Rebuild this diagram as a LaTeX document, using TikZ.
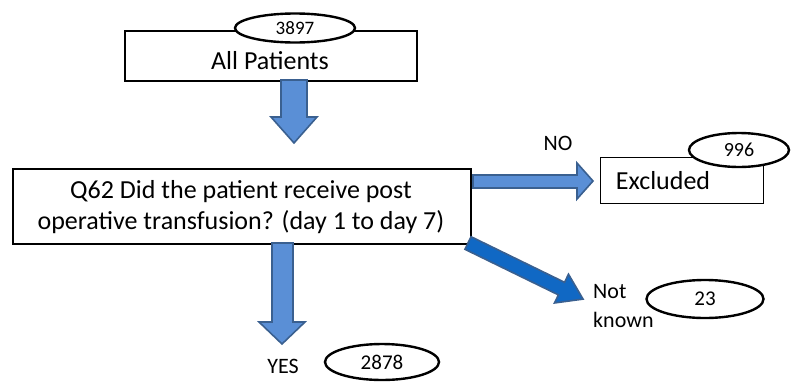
\documentclass[tikz,border=0pt]{standalone}
\usepackage{fontspec}
\setmainfont{Carlito}
\usetikzlibrary{shapes.geometric}
\definecolor{arrfill}{HTML}{5A8FD6}
\definecolor{arrdark}{HTML}{1068C4}
\definecolor{arredge}{HTML}{3A6090}
\tikzset{
  x=1pt, y=-1pt,
  boxnode/.style={draw=black, line width=2.4pt, fill=white, inner sep=0pt, align=center},
  oval/.style={draw=black, ellipse, line width=2.4pt, fill=white, inner sep=0pt},
  blockarrow/.style={fill=arrfill, draw=arredge, line width=1.6pt, line join=miter},
  darkarrow/.style={fill=arrdark, draw=arredge, line width=1.6pt, line join=miter},
  lbl/.style={inner sep=0pt, font=\fontsize{22}{28.5}\selectfont},
  bigtxt/.style={inner sep=0pt, font=\fontsize{26}{31}\selectfont},
}
\begin{document}
\begin{tikzpicture}
\useasboundingbox (0,0) rectangle (794,383);
% top box
\node[boxnode, minimum width=292pt, minimum height=50pt, anchor=north west] (all) at (124,30) {};
\node[bigtxt] (alltxt) at (270,61) {All Patients};
\node[oval, minimum width=120pt, minimum height=29pt, font=\fontsize{19}{22}\selectfont] (n3897) at (295,28) {3897};
% arrow 1
\draw[blockarrow] (281,80) -- (307,80) -- (307,117) -- (317,117) -- (294,143) -- (271,117) -- (281,117) -- cycle;
% question box
\node[boxnode, minimum width=458pt, minimum height=75pt, anchor=north west] (q) at (12,168) {};
\node[bigtxt, align=center] (qtxt) at (241,207) {Q62 Did the patient receive post\\operative transfusion? (day 1 to day 7)};
% NO arrow
\draw[blockarrow] (473,175) -- (577,175) -- (577,163) -- (593,181) -- (577,199) -- (577,188) -- (473,188) -- cycle;
\node[lbl] (no) at (558,143) {NO};
% excluded
\node[draw=black, line width=1.2pt, minimum width=163pt, minimum height=46pt, anchor=north west, inner sep=0pt] (exc) at (600,157) {};
\node[bigtxt] (exctxt) at (663,181) {Excluded};
\node[oval, minimum width=100pt, minimum height=34pt, font=\fontsize{20}{24}\selectfont] (n996) at (739,150) {996};
% YES arrow
\draw[blockarrow] (272,243) -- (293,243) -- (293,322) -- (305,322) -- (282,344) -- (259,322) -- (272,322) -- cycle;
\node[lbl] (yes) at (283,366) {YES};
\node[oval, minimum width=114pt, minimum height=36pt, font=\fontsize{21}{24}\selectfont] (n2878) at (382,362) {2878};
% Not known arrow
\begin{scope}[shift={(468,243)}, rotate=-26]
\draw[darkarrow] (0,-7) -- (104,-7) -- (104,-16) -- (128,0) -- (104,16) -- (104,7) -- (0,7) -- cycle;
\end{scope}
\node[lbl, align=left, anchor=west] (nk) at (593,306) {Not\\known};
\node[oval, minimum width=117pt, minimum height=38pt, font=\fontsize{21}{24}\selectfont] (n23) at (705,299) {23};
\end{tikzpicture}
\end{document}
